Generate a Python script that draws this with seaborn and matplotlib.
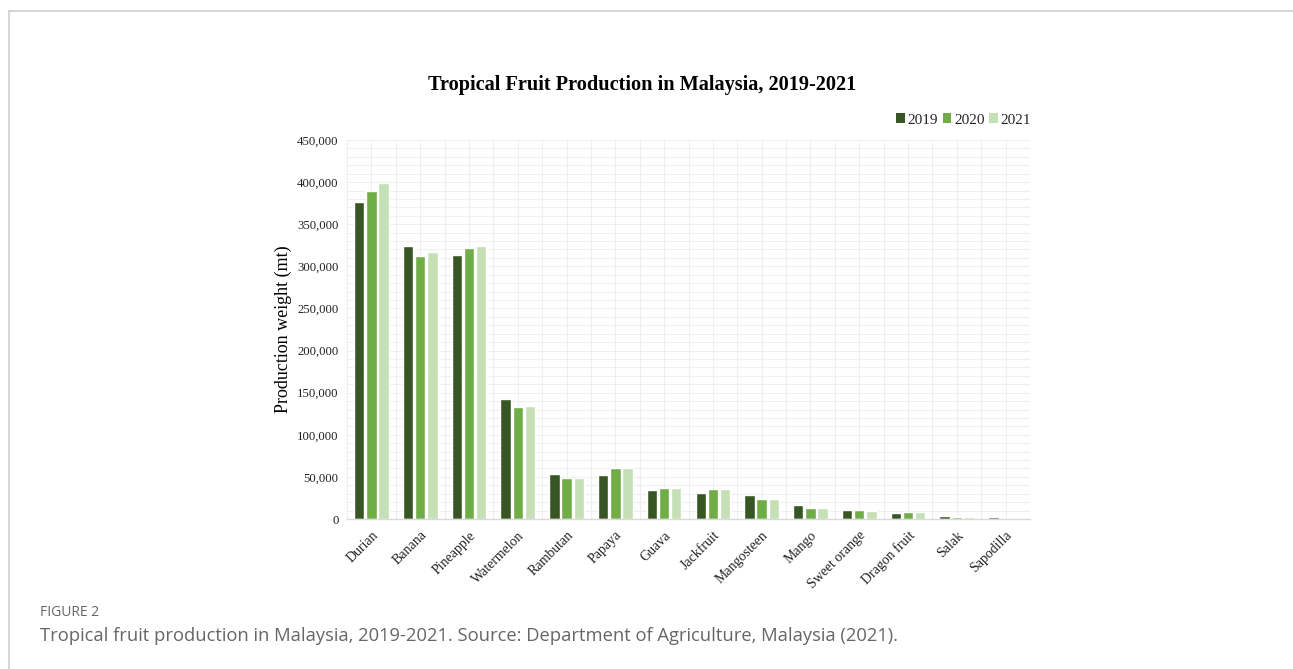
import matplotlib
matplotlib.use("Agg")
import matplotlib.pyplot as plt
import matplotlib.ticker as mticker
from matplotlib.lines import Line2D
from matplotlib.patches import Patch
import seaborn as sns
import pandas as pd

categories = ["Durian", "Banana", "Pineapple", "Watermelon", "Rambutan", "Papaya", "Guava",
              "Jackfruit", "Mangosteen", "Mango", "Sweet orange", "Dragon fruit", "Salak", "Sapodilla"]
years = ["2019", "2020", "2021"]
v2019 = [376000, 324000, 313000, 143000, 54000, 52000, 34500, 31000, 28500, 16200, 10700, 6700, 3500, 2000]
v2020 = [389000, 312000, 322000, 133000, 48500, 60000, 36500, 35500, 23400, 13000, 10300, 8300, 2800, 1200]
v2021 = [399000, 317000, 324000, 134000, 49000, 61000, 36500, 35500, 23400, 13000, 10000, 8000, 2500, 1000]
colors = ["#375623", "#70AD47", "#C5E0B4"]

rows = []
for y, vals in zip(years, [v2019, v2020, v2021]):
    for c, v in zip(categories, vals):
        rows.append({"Fruit": c, "Year": y, "Value": v})
df = pd.DataFrame(rows)

sns.set_theme(style="white")
serif = ["Liberation Serif", "DejaVu Serif"]

fig = plt.figure(figsize=(12.93, 6.69), dpi=100)
ax = fig.add_axes([347/1293, (669-519)/669, (1030-347)/1293, (519-140)/669])

sns.barplot(data=df, x="Fruit", y="Value", hue="Year", order=categories, hue_order=years,
            palette=colors, width=0.75, gap=0.15, ax=ax, legend=False, saturation=1)

ax.set_xlim(-0.5, len(categories) - 0.5)
ax.set_ylim(0, 450000)
ax.yaxis.set_major_locator(mticker.MultipleLocator(50000))
ax.yaxis.set_minor_locator(mticker.MultipleLocator(10000))
ax.yaxis.set_major_formatter(mticker.FuncFormatter(lambda v, p: f"{int(v):,}"))
ax.xaxis.set_minor_locator(mticker.MultipleLocator(0.5))
ax.grid(True, which="both", color="#efefef", linewidth=0.8)
ax.set_axisbelow(True)
for s in ["top", "right", "left"]:
    ax.spines[s].set_visible(False)
ax.spines["bottom"].set_color("#d9d9d9")
ax.spines["bottom"].set_linewidth(1.0)
ax.tick_params(axis="both", which="both", length=0, colors="#222222")
ax.tick_params(axis="y", pad=6, labelsize=9.2)
ax.tick_params(axis="x", pad=7)
for t in ax.get_yticklabels():
    t.set_fontfamily(serif)
ax.set_xticks(range(len(categories)))
ax.set_xticklabels(categories, rotation=45, ha="right", rotation_mode="anchor", fontfamily=serif, fontsize=10)
ax.set_xlabel("")
ax.set_ylabel("Production weight (mt)", fontfamily=serif, fontsize=13, color="#000000", labelpad=4)

fig.text(642/1293, 1 - 85/669, "Tropical Fruit Production in Malaysia, 2019-2021", ha="center", va="center",
         fontfamily=serif, fontweight="bold", fontsize=14.6, color="#000000")

handles = [Patch(facecolor=c, edgecolor="none") for c in colors]
fig.legend(handles, years, loc="center right", bbox_to_anchor=(1045/1293, 1 - 120/669), ncol=3,
           frameon=False, handlelength=0.55, handleheight=0.55, handletextpad=0.2, columnspacing=0.3,
           prop={"family": serif, "size": 11})

# outer frame
fig.add_artist(Line2D([9/1293, 1], [1 - 10.5/669, 1 - 10.5/669], transform=fig.transFigure, color="#d0d0d0", linewidth=1.2))
fig.add_artist(Line2D([9/1293, 9/1293], [0, 1 - 10.5/669], transform=fig.transFigure, color="#d0d0d0", linewidth=1.2))

cap = ["Open Sans", "DejaVu Sans"]
fig.text(40/1293, 1 - 613/669, "FIGURE 2", ha="left", va="center", fontfamily=cap, fontsize=10, color="#666666")
fig.text(40/1293, 1 - 636/669,
         "Tropical fruit production in Malaysia, 2019-2021. Source: Department of Agriculture, Malaysia (2021).",
         ha="left", va="center", fontfamily=cap, fontsize=13.2, color="#666666")

fig.savefig("out.png", dpi=100)
